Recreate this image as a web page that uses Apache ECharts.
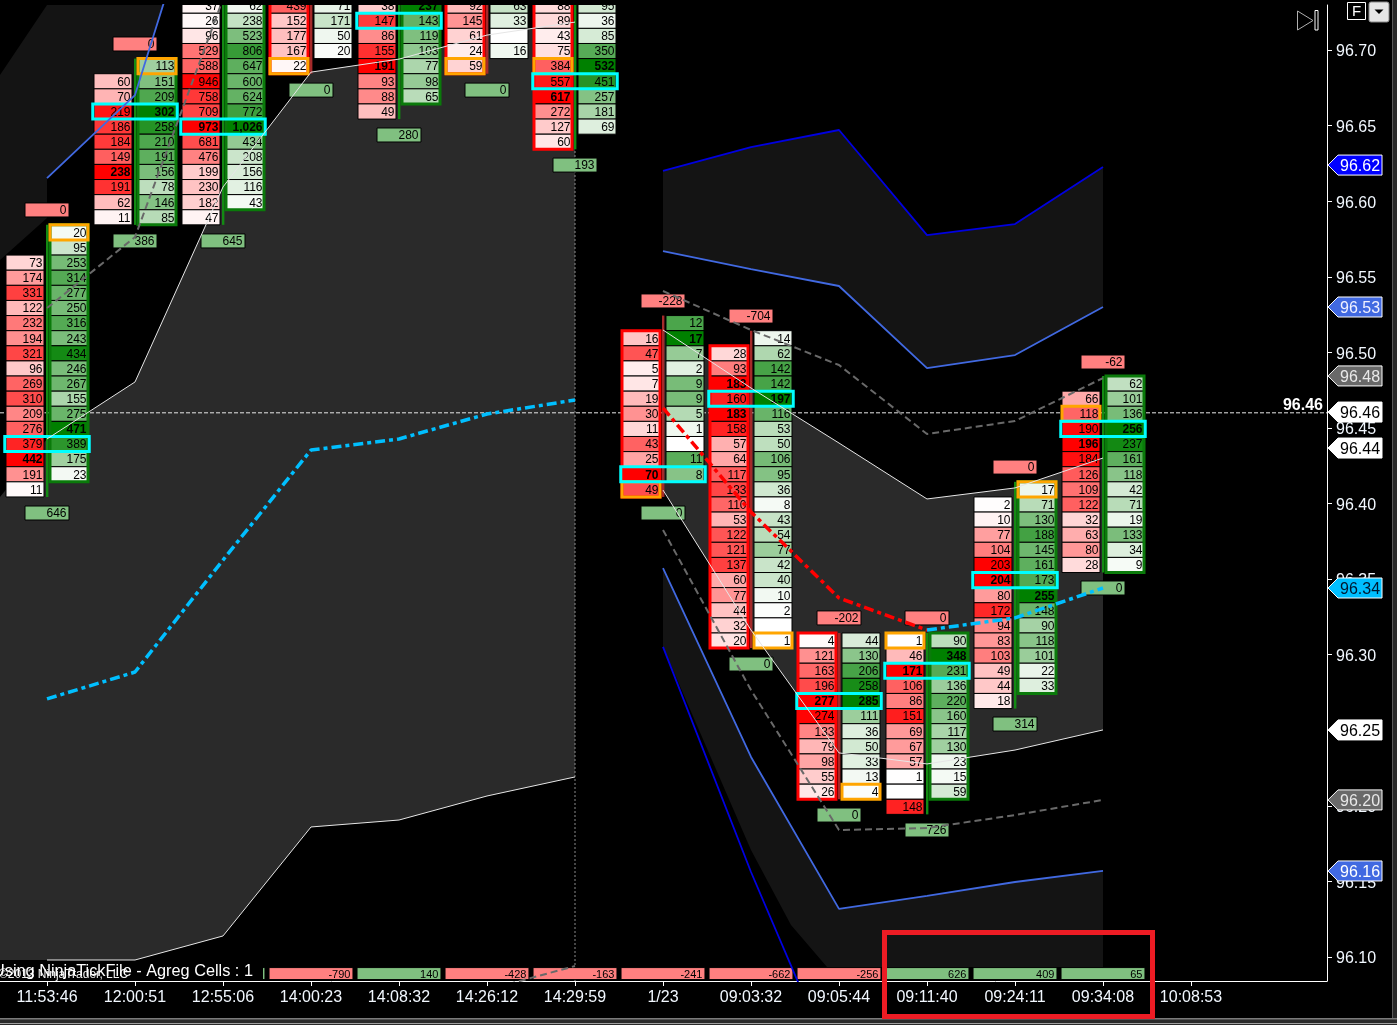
<!DOCTYPE html>
<html><head><meta charset="utf-8">
<style>html,body{margin:0;padding:0;background:#000;overflow:hidden}#c{width:1397px;height:1025px}</style>
<script src="https://cdn.jsdelivr.net/npm/echarts@6/dist/echarts.min.js"></script>
</head><body><div id="c"></div>
<script>
const timeLabels = ['11:53:46','12:00:51','12:55:06','14:00:23','14:08:32','14:26:12','14:29:59','1/23','09:03:32','09:05:44','09:11:40','09:24:11','09:34:08','10:08:53'];
const priceTicks = [96.10,96.15,96.20,96.25,96.30,96.35,96.40,96.45,96.50,96.55,96.60,96.65,96.70];

const bidTop = [96.56,96.68,96.73,96.73,96.73,96.73,96.73,96.51,96.50,96.31,96.31,96.40,96.47];
const bidValues = [
 [73,174,331,122,232,194,321,96,269,310,209,276,379,442,191,11],
 [60,70,219,186,184,149,238,191,62,11],
 [37,26,96,529,588,946,758,709,973,681,476,199,230,182,47],
 [439,152,177,167,22],
 [38,147,86,155,191,93,88,49],
 [92,145,61,24,59],
 [88,89,43,75,384,557,617,272,127,60],
 [16,47,5,7,19,30,11,43,25,70,49],
 [28,93,183,160,183,158,57,64,117,133,110,53,122,121,137,60,77,44,32,20],
 [4,121,163,196,277,274,133,79,98,55,26],
 [1,46,171,106,86,151,69,67,57,1,null,148],
 [2,10,77,104,203,204,80,172,94,83,103,49,44,18],
 [66,118,190,196,184,126,109,122,32,63,80,28]
];
const askTop = [96.58,96.69,96.73,96.73,96.73,96.73,96.73,96.52,96.51,96.31,96.31,96.41,96.48];
const askValues = [
 [20,95,253,314,277,250,316,243,434,246,267,155,275,471,389,175,23],
 [113,151,209,302,258,210,191,156,78,146,85],
 [62,238,523,806,647,600,624,772,1026,434,208,156,116,43],
 [71,171,50,20],
 [237,143,119,103,77,98,65],
 [63,33,null,16],
 [95,36,85,350,532,451,257,181,69],
 [12,17,7,2,9,9,5,1,null,11,8],
 [14,62,142,142,197,116,53,50,106,95,36,8,43,54,77,42,40,10,2,null,1],
 [44,130,206,258,285,111,36,50,33,13,4],
 [90,348,231,136,220,160,117,130,23,15,59],
 [17,71,130,188,145,161,173,255,148,90,118,101,22,33],
 [62,101,136,256,237,161,118,42,71,19,133,34,9]
];
const bidScale = [null,null,null,700,null,345,null,null,null,null,null,null,null];
const askScale = [null,null,null,800,null,280,null,null,null,null,null,null,null];
const boxSide = ['ask','ask','ask','bid','ask','bid','bid','bid','bid','bid','ask','ask','ask'];
const wickUp = [true,true,true,false,true,false,true,false,false,false,true,true,true];
const pocPrice = [96.44,96.66,96.65,null,96.72,null,96.68,96.42,96.47,96.27,96.29,96.35,96.45];
const closeSide = ['ask','ask',null,'bid',null,'bid','bid','bid','ask','ask','bid','ask','bid'];
const closePrice = [96.58,96.69,null,96.69,null,96.69,96.69,96.41,96.31,96.21,96.31,96.41,96.46];

const topDeltaBar = [0,1,7,8,9,10,11,12];
const topDeltaValue = [0,0,-228,-704,-202,0,0,-62];
const topDeltaPrice = [96.5942,96.7040,96.5340,96.5240,96.3243,96.3243,96.4241,96.4936];
const bottomDeltaBar = [0,1,2,3,4,5,6,7,8,9,10,11,12];
const bottomDeltaValue = [646,386,645,0,280,0,193,0,0,0,726,314,0];
const bottomDeltaPrice = [96.3937,96.5737,96.5737,96.6735,96.6438,96.6735,96.6239,96.3937,96.2938,96.1939,96.1840,96.2541,96.3441];
const stripBar = [2,3,4,5,6,7,8,9,10,11,12];
const stripValue = [300,-790,140,-428,-163,-241,-662,-256,626,409,65];
const stripPrice = 96.0890;

const whiteUpperA = [96.4427,96.4804,96.6094,96.6854,96.6940,96.7099,96.7185];
const whiteLowerA = [96.0980,96.0980,96.1139,96.1860,96.1906,96.2065,96.2191];
const vwapA = [96.2707,96.2885,96.3626,96.4354,96.4427,96.4592,96.4685];
const royalA = [96.6153,96.6702,96.8568];
const grayUpperA = [96.5293,96.5763,96.7337];
const grayLowerA = [96.0782,96.0940];
const deepUpperB = [96.62,96.6358,96.6471,96.5776,96.5849,96.6226];
const royalUpperB = [96.5670,96.5551,96.5439,96.4896,96.4982,96.53];
const grayUpperB = [96.5406,96.5148,96.4916,96.4460,96.4546,96.4830];
const whiteUpperB = [96.5148,96.4764,96.44,96.4030,96.4103,96.4301];
const whiteLowerB = [96.4089,96.3163,96.2350,96.2277,96.2369,96.2502];
const grayLowerB = [96.3825,96.2766,96.1840,96.1853,96.1939,96.2039];
const royalLowerB = [96.3573,96.2323,96.1318,96.1404,96.1496,96.1569];
const deepLowerB = [96.3051,96.1562,96.02];
const vwapDownB = [96.4632,96.3944,96.3375,96.3163];
const vwapUpB = [96.3163,96.3243,96.3441];

const flagPrices = [96.6239,96.53,96.4844,96.4605,96.4367,96.3441,96.2502,96.2039,96.1569];
const flagLabels = ['96.62','96.53','96.48','96.46','96.44','96.34','96.25','96.20','96.16'];
const flagFills = ['#0000ff','#4169e1','#696969','#ffffff','#ffffff','#00bfff','#ffffff','#696969','#4169e1'];
const flagTexts = ['#ffffff','#f0f0ff','#e8e8e8','#000000','#000000','#001830','#000000','#e8e8e8','#ffffff'];
const crossPrice = 96.46, crossBar = 6;

const X_MIN = -47/88, X_MAX = 1280/88, Y_MIN = 96.0841, Y_MAX = 96.7298;
const FONT = '"Liberation Sans", Arial, sans-serif';
const at = (x0, arr) => arr.map((p,i) => [x0+i, p]);
const maxOf = a => Math.max(...a.filter(v => v != null));
const lerp = (a,b,t) => Math.round(a+(b-a)*t);
function shade(side, t){
  t = Math.min(1,t);
  return side==='bid' ? `rgb(255,${lerp(255,0,t)},${lerp(255,0,t)})`
                      : `rgb(${lerp(255,0,t)},${lerp(255,128,t)},${lerp(255,0,t)})`;
}
const round2 = p => Math.round(p*100)/100;

const cells = [];
function addCells(side, tops, vals, scales){
  vals.forEach((col,b) => {
    const mx = scales[b] || maxOf(col);
    col.forEach((v,i) => cells.push({b, p: round2(tops[b]-i*0.01), side, v, mx}));
  });
}
addCells('bid', bidTop, bidValues, bidScale);
addCells('ask', askTop, askValues, askScale);

function colX(c, side, band){
  return side==='bid' ? c-band*0.466 : c+band*0.034;
}
const OFF = 1;

function cellItem(params, api){
  const c = cells[params.dataIndex];
  const band = api.size([1,0])[0], h = api.size([0,0.01])[1];
  const pt = api.coord([c.b, c.p]);
  const x = colX(pt[0], c.side, band), w = band*0.432, y = pt[1]-h/2+OFF;
  const kids = [{type:'rect', shape:{x, y, width:w, height:h},
    style:{fill: c.v==null ? '#ffffff' : shade(c.side, c.v/c.mx), stroke:'#000', lineWidth:1}}];
  if (c.v != null) kids.push({type:'text', style:{
    text: c.v.toLocaleString('en-US'), x:x+w-1.5, y:y+h/2+1, textAlign:'right', textVerticalAlign:'middle',
    fill:'#000', font:(c.v===c.mx?'bold ':'')+'12px '+FONT}});
  return {type:'group', children:kids};
}

const wickData = bidValues.map((_,b) => {
  const lowBid = bidTop[b]-(bidValues[b].length-1)*0.01, lowAsk = askTop[b]-(askValues[b].length-1)*0.01;
  return [b, Math.max(bidTop[b],askTop[b]), Math.min(lowBid,lowAsk)];
});
function wickItem(params, api){
  const b = params.dataIndex, d = wickData[b], h = api.size([0,0.01])[1];
  const a = api.coord([d[0],d[1]]), z = api.coord([d[0],d[2]]);
  return {type:'rect', shape:{x:a[0]-1, y:a[1]-h/2+OFF, width:2.4, height:z[1]-a[1]+h},
    style:{fill: wickUp[b] ? '#138a13' : '#a52a2a'}};
}

function boxItem(params, api){
  const b = params.dataIndex, band = api.size([1,0])[0], h = api.size([0,0.01])[1], kids = [];
  const side = boxSide[b], tops = side==='bid'?bidTop:askTop, vals = side==='bid'?bidValues:askValues;
  const a = api.coord([b,tops[b]]), z = api.coord([b,tops[b]-(vals[b].length-1)*0.01]);
  kids.push({type:'rect', shape:{x:colX(a[0],side,band), y:a[1]-h/2+OFF, width:band*0.432, height:z[1]-a[1]+h},
    style:{fill:'none', stroke: side==='bid'?'#ff0000':'#0a7a0a', lineWidth:3}});
  if (closeSide[b]) {
    const q = api.coord([b,closePrice[b]]);
    kids.push({type:'rect', shape:{x:colX(q[0],closeSide[b],band), y:q[1]-h/2+OFF, width:band*0.432, height:h},
      style:{fill:'none', stroke:'#ffa500', lineWidth:3}});
  }
  if (pocPrice[b]!=null) {
    const q = api.coord([b,pocPrice[b]]);
    kids.push({type:'rect', shape:{x:q[0]-band*0.48, y:q[1]-h/2+OFF, width:band*0.96, height:h},
      style:{fill:'none', stroke:'#00ffff', lineWidth:3}});
  }
  return {type:'group', children:kids};
}

const deltas = [];
topDeltaBar.forEach((b,i)=>deltas.push({b, v:topDeltaValue[i], p:topDeltaPrice[i], color:'#ff8080'}));
bottomDeltaBar.forEach((b,i)=>deltas.push({b, v:bottomDeltaValue[i], p:bottomDeltaPrice[i], color:'#80c080'}));
stripBar.forEach((b,i)=>deltas.push({b, v:stripValue[i], p:stripPrice, color:stripValue[i]<0?'#ff8080':'#80c080', wide:true}));
function deltaItem(params, api){
  const d = deltas[params.dataIndex], band = api.size([1,0])[0], pt = api.coord([d.b,d.p]);
  const hw = d.wide ? band*0.477 : band*0.25, hh = d.wide ? 6 : 7;
  return {type:'group', children:[
    {type:'rect', shape:{x:pt[0]-hw, y:pt[1]-hh, width:hw*2, height:hh*2}, style:{fill:d.color, stroke:'#000', lineWidth:1}},
    {type:'text', style:{text:d.v.toLocaleString('en-US'), x:pt[0]+hw-2.5, y:pt[1]+1, textAlign:'right', textVerticalAlign:'middle',
      fill:'#000', font:(d.wide?'11px ':'12px ')+FONT}}
  ]};
}

const bands = [
 {fill:'#2a2a2a', pts:[[X_MIN,96.4043],...at(0,whiteUpperA),...at(0,whiteLowerA).reverse(),[X_MIN,96.0980]]},
 {fill:'#141414', pts:[[X_MIN,96.6835],[0,96.7298],[2,96.8568],[1,96.6702],[0,96.6153],[0,96.5889],[X_MIN,96.5611]]},
 {fill:'#2a2a2a', pts:[...at(7,whiteUpperB),...at(7,whiteLowerB).reverse()]},
 {fill:'#141414', pts:[...at(7,deepUpperB),...at(7,royalUpperB).reverse()]},
 {fill:'#141414', pts:[...at(7,royalLowerB),[12,96.0934],[8.8636,96.0934],[8.4545,96.1212],[8,96.1708],[7,96.3051]]}
];
function bandItem(params, api){
  const b = bands[params.dataIndex];
  return {type:'polygon', shape:{points:b.pts.map(p=>api.coord(p))}, style:{fill:b.fill}};
}

function flagItem(params, api){
  const i = params.dataIndex, pt = api.coord([X_MAX, flagPrices[i]]), y = pt[1], x = pt[0];
  return {type:'group', children:[
    {type:'polygon', shape:{points:[[x+1,y],[x+11,y-10],[x+55,y-10],[x+55,y+10],[x+11,y+10]]},
      style:{fill:flagFills[i], stroke:'#ffffff', lineWidth:1}},
    {type:'text', style:{text:flagLabels[i], x:x+13, y:y+1.5, textAlign:'left', textVerticalAlign:'middle', fill:flagTexts[i], font:'16px '+FONT}}
  ]};
}
function crossLabel(params, api){
  const pt = api.coord([X_MAX, crossPrice]);
  return {type:'text', style:{text:crossPrice.toFixed(2), x:pt[0]-4, y:pt[1]-7, textAlign:'right', textVerticalAlign:'middle', fill:'#fff', font:'bold 16px '+FONT}};
}

const custom = (data, renderItem, z, clip=true) => ({type:'custom', data, renderItem, z, clip, silent:true, animation:false});
const line = (data, color, width, type, z=6) => ({type:'line', data, showSymbol:false, symbol:'none', silent:true, z,
  lineStyle:{color, width, type}, animation:false});

const option = {
  backgroundColor:'#000',
  animation:false,
  grid:{left:0, top:5, width:1327, height:976},
  xAxis:{type:'value', min:X_MIN, max:X_MAX, position:'bottom',
    axisLine:{onZero:false, lineStyle:{color:'#fff', width:1}},
    axisTick:{show:true, customValues:timeLabels.map((_,i)=>i), length:5, lineStyle:{color:'#fff'}},
    axisLabel:{show:true, customValues:timeLabels.map((_,i)=>i), formatter:v=>timeLabels[Math.round(v)],
      color:'#f2f8ff', fontFamily:FONT, fontSize:16, margin:9},
    splitLine:{show:false}},
  yAxis:{type:'value', min:Y_MIN, max:Y_MAX, position:'right',
    axisLine:{show:true, onZero:false, lineStyle:{color:'#fff', width:1}},
    axisTick:{show:true, customValues:priceTicks, length:5, lineStyle:{color:'#fff'}},
    axisLabel:{show:true, customValues:priceTicks, formatter:v=>'{t|'+v.toFixed(2)+'}', margin:9,
      rich:{t:{color:'#f2f8ff', fontFamily:FONT, fontSize:16, padding:[4,0,0,0]}}},
    splitLine:{show:false}},
  series:[
    custom(bands.map((_,i)=>[i,96.4]), bandItem, 1),
    line([[X_MIN,crossPrice],[X_MAX,crossPrice]], '#e8e8e8', 1, [4,2], 2),
    line([[crossBar,Y_MIN],[crossBar,Y_MAX]], '#8a8a8a', 1, [2,2], 2),
    custom(wickData.map(d=>[d[0],d[1]]), wickItem, 3),
    custom(cells.map(c=>[c.b,c.p]), cellItem, 4),
    custom(deltas.map(d=>[d.b,d.p]), deltaItem, 4),
    custom(wickData.map(d=>[d[0],d[1]]), boxItem, 5),
    line(at(0,whiteUpperA),'#e6e6e6',1,'solid'),
    line(at(0,whiteLowerA),'#e6e6e6',1,'solid'),
    line(at(0,royalA),'#4169e1',1.8,'solid'),
    line(at(0,grayUpperA),'#696969',2,[7,4]),
    line(at(5,grayLowerA),'#696969',2,[7,4]),
    line(at(0,vwapA),'#00bfff',3.5,[10,4,4,4]),
    line(at(7,deepUpperB),'#0000e0',1.8,'solid'),
    line(at(7,royalUpperB),'#4169e1',1.8,'solid'),
    line(at(7,grayUpperB),'#696969',2,[7,4]),
    line(at(7,whiteUpperB),'#e6e6e6',1,'solid'),
    line(at(7,whiteLowerB),'#e6e6e6',1,'solid'),
    line(at(7,grayLowerB),'#696969',2,[7,4]),
    line(at(7,royalLowerB),'#4169e1',1.8,'solid'),
    line(at(7,deepLowerB),'#0000e0',1.8,'solid'),
    line(at(7,vwapDownB),'#ff0000',3.5,[10,4,4,4]),
    line(at(10,vwapUpB),'#00bfff',3.5,[10,4,4,4]),
    custom(flagPrices.map(p=>[X_MAX,p]), flagItem, 8, false),
    custom([[X_MAX,crossPrice]], crossLabel, 8, false)
  ],
  graphic:{elements:[
    {type:'rect', z:50, shape:{x:0,y:962,width:263,height:18.5}, style:{fill:'#000'}},
    {type:'text', z:51, style:{text:'©2013 NinjaTrader, LLC', x:-1, y:975, textVerticalAlign:'middle', fill:'#eeeeee', font:'12px '+FONT}},
    {type:'text', z:52, style:{text:'Using NinjaTickFile - Agreg Cells : 1', x:-7, y:971.5, textVerticalAlign:'middle', fill:'#ffffff', font:'16.3px '+FONT}},
    {type:'rect', z:60, shape:{x:884.5,y:932.5,width:268,height:84}, style:{fill:'none', stroke:'#ed1c24', lineWidth:5}},
    {type:'polygon', z:60, shape:{points:[[1297.5,11],[1313,20.5],[1297.5,30]]}, style:{fill:'none', stroke:'#b0b0b0', lineWidth:1}},
    {type:'rect', z:60, shape:{x:1315,y:10.5,width:3,height:19.5}, style:{fill:'none', stroke:'#ffffff', lineWidth:1}},
    {type:'rect', z:60, shape:{x:1347.5,y:2.5,width:18,height:17}, style:{fill:'#000', stroke:'#ffffff', lineWidth:1}},
    {type:'text', z:61, style:{text:'F', x:1356.5, y:12, textAlign:'center', textVerticalAlign:'middle', fill:'#ffffff', font:'15px '+FONT}},
    {type:'rect', z:60, shape:{x:1369,y:2,width:20,height:20,r:2}, style:{fill:'#e6e6e6', stroke:'#8a8a8a', lineWidth:1}},
    {type:'polygon', z:61, shape:{points:[[1374.5,9.5],[1383.5,9.5],[1379,14]]}, style:{fill:'#000'}},
    {type:'rect', z:40, shape:{x:1392,y:0,width:5,height:1025}, style:{fill:'#2a2a2a'}},
    {type:'rect', z:40, shape:{x:0,y:1018,width:1397,height:7}, style:{fill:'#2a2a2a'}},
    {type:'rect', z:41, shape:{x:0,y:1018,width:1397,height:1.5}, style:{fill:'#7a7a7a'}},
    {type:'rect', z:41, shape:{x:0,y:1023,width:1397,height:1}, style:{fill:'#a0a0a0'}},
    {type:'rect', z:41, shape:{x:1392,y:0,width:1,height:1018}, style:{fill:'#5a5a5a'}}
  ]}
};
const chart = echarts.init(document.getElementById('c'), null, {renderer:'canvas', width:1397, height:1025});
chart.setOption(option);
</script></body></html>
